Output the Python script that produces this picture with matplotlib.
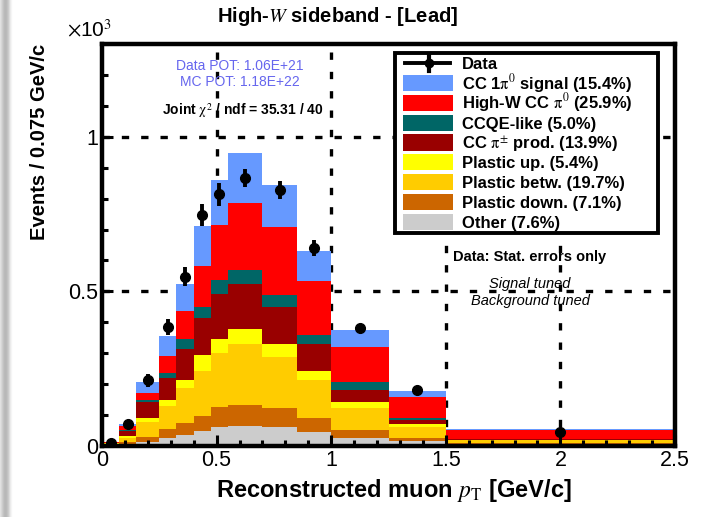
import numpy as np
import matplotlib
matplotlib.use('Agg')
import matplotlib.pyplot as plt
from matplotlib.patches import Rectangle
from matplotlib.ticker import MultipleLocator

plt.rcParams['font.family'] = ['Liberation Sans', 'DejaVu Sans']
plt.rcParams['mathtext.fontset'] = 'stix'

# bins in reconstructed muon pT [GeV/c]
bin_edges = [0, 0.075, 0.15, 0.25, 0.325, 0.4, 0.475, 0.55, 0.7, 0.85, 1.0, 1.25, 1.5, 2.5]

# stacked MC components, events / 0.075 GeV/c (x10^3), bottom to top
other = [0.002, 0.007, 0.014, 0.027, 0.036, 0.049, 0.062, 0.064, 0.060, 0.045, 0.027, 0.016, 0.006]
plastic_down = [0.002, 0.006, 0.015, 0.027, 0.037, 0.049, 0.063, 0.070, 0.063, 0.047, 0.025, 0.011, 0.005]
plastic_betw = [0.004, 0.013, 0.050, 0.076, 0.114, 0.146, 0.177, 0.197, 0.165, 0.120, 0.070, 0.033, 0.008]
plastic_up = [0.001, 0.005, 0.013, 0.020, 0.028, 0.049, 0.043, 0.046, 0.041, 0.032, 0.019, 0.011, 0.002]
cc_pipm = [0.001, 0.019, 0.049, 0.069, 0.098, 0.122, 0.147, 0.147, 0.122, 0.085, 0.041, 0.013, 0.002]
ccqe_like = [0.000, 0.003, 0.009, 0.018, 0.032, 0.034, 0.045, 0.046, 0.038, 0.029, 0.024, 0.008, 0.001]
high_w = [0.003, 0.011, 0.023, 0.055, 0.092, 0.134, 0.179, 0.215, 0.218, 0.177, 0.114, 0.068, 0.027]
signal = [0.001, 0.008, 0.033, 0.064, 0.087, 0.130, 0.143, 0.161, 0.137, 0.094, 0.055, 0.019, 0.003]

data = [0.011, 0.071, 0.212, 0.385, 0.548, 0.746, 0.814, 0.866, 0.828, 0.641, 0.382, 0.181, 0.046]
data_err = [0.004, 0.010, 0.020, 0.027, 0.030, 0.035, 0.037, 0.029, 0.028, 0.026, 0.012, 0.008, 0.003]

labels = ['CC 1$\\mathrm{\\pi}^{0}$ signal (15.4%)', 'High-W CC $\\mathrm{\\pi}^{0}$ (25.9%)',
          'CCQE-like (5.0%)', 'CC $\\mathrm{\\pi}^{\\pm}$ prod. (13.9%)', 'Plastic up. (5.4%)',
          'Plastic betw. (19.7%)', 'Plastic down. (7.1%)', 'Other (7.6%)']
colors = ['#6699ff', '#ff0000', '#006666', '#990000', '#ffff00', '#ffcc00', '#cc6600', '#cccccc']

edges = np.array(bin_edges)
widths = np.diff(edges)
centers = edges[:-1] + widths / 2

fig = plt.figure(figsize=(7.04, 5.17), dpi=100)

# grey shadow down the left edge
sh = fig.add_axes([0, 0, 16 / 704, 1])
grad = np.array([0.88, 0.84, 0.8, 0.76, 0.73, 0.72, 0.73, 0.76, 0.8, 0.86, 0.92, 0.96, 0.99, 1.0, 1.0, 1.0])
sh.imshow(np.tile(grad, (10, 1)), cmap='gray', vmin=0, vmax=1, aspect='auto')
sh.axis('off')

ax = fig.add_axes([102 / 704, 1 - 446 / 517, 573 / 704, 402 / 517])

# dashed grid behind the histograms
for gx in [0.5, 1.0, 1.5, 2.0]:
    ax.axvline(gx, color='k', lw=2.4, linestyle=(0, (2.2, 3.6)), zorder=0.5)
for gy in [0.5, 1.0]:
    ax.axhline(gy, color='k', lw=2.4, linestyle=(0, (2.2, 3.6)), zorder=0.5)

stack = [other, plastic_down, plastic_betw, plastic_up, cc_pipm, ccqe_like, high_w, signal]
stack_cols = colors[::-1]
bottom = np.zeros(len(centers))
for vals, c in zip(stack, stack_cols):
    ax.bar(edges[:-1], vals, width=widths, bottom=bottom, align='edge', color=c, lw=0, zorder=1)
    bottom += np.array(vals)

ax.errorbar(centers, data, yerr=data_err, fmt='o', color='k', ms=7, elinewidth=2.8,
            capsize=0, zorder=5)

ax.set_xlim(0, 2.5)
ax.set_ylim(0, 1.3)
ax.xaxis.set_minor_locator(MultipleLocator(0.1))
ax.yaxis.set_minor_locator(MultipleLocator(0.1))
ax.set_xticks([0, 0.5, 1, 1.5, 2, 2.5])
ax.set_xticklabels(['0', '0.5', '1', '1.5', '2', '2.5'])
ax.set_yticks([0, 0.5, 1])
ax.set_yticklabels(['0', '0.5', '1'])
ax.tick_params(which='both', direction='in', top=False, right=False, labelsize=15.5, width=2.2)
ax.tick_params(which='major', length=8, pad=3)
ax.tick_params(which='minor', length=4)
for s in ax.spines.values():
    s.set_linewidth(3.2)

# labels
fig.text(338 / 704, 1 - 17 / 517, 'High-$W$ sideband - [Lead]', ha='center', va='center',
         fontsize=14.5, fontweight='bold')
fig.text(112 / 704, 1 - 30 / 517, '$\\times$10$^{3}$', ha='right', va='center', fontsize=15)
fig.text(40 / 704, 1 - 44 / 517, 'Events / 0.075 GeV/c', rotation=90, ha='center', va='top',
         fontsize=14.5, fontweight='bold')
fig.text(394 / 704, 1 - 491 / 517, 'Reconstructed muon $p_{\\mathrm{T}}$ [GeV/c]', ha='center',
         va='center', fontsize=17, fontweight='bold')

ax.text(0.24, 0.945, 'Data POT: 1.06E+21', transform=ax.transAxes, ha='center', va='center',
        fontsize=10, color='#6666ee')
ax.text(0.24, 0.905, 'MC POT: 1.18E+22', transform=ax.transAxes, ha='center', va='center',
        fontsize=10, color='#6666ee')
ax.text(0.245, 0.835, 'Joint $\\mathrm{\\chi}^{2}$ / ndf = 35.31 / 40', transform=ax.transAxes,
        ha='center', va='center', fontsize=10, fontweight='bold')
ax.text(0.747, 0.47, 'Data: Stat. errors only', transform=ax.transAxes, ha='center',
        va='center', fontsize=10.5, fontweight='bold')
ax.text(0.747, 0.404, 'Signal tuned', transform=ax.transAxes, ha='center', va='center',
        fontsize=10.5, style='italic')
ax.text(0.747, 0.36, 'Background tuned', transform=ax.transAxes, ha='center', va='center',
        fontsize=10.5, style='italic')


# legend drawn by hand so that the rows are evenly spaced (pixel -> axes coords)
def px(x):
    return (x - 102) / 573


def py(y):
    return (446 - y) / 402


T = ax.transAxes
ax.add_patch(Rectangle((px(395), py(232.7)), px(658) - px(395), py(52.7) - py(232.7),
                       transform=T, facecolor='white', edgecolor='k', lw=2.8, zorder=10,
                       clip_on=False))
row0 = 63.3
step = 19.8
ax.plot([px(405), px(450)], [py(row0), py(row0)], transform=T, color='k', lw=2.8, zorder=11,
        clip_on=False)
ax.plot([px(428.5), px(428.5)], [py(row0 - 7), py(row0 + 8)], transform=T, color='k', lw=3,
        zorder=11, clip_on=False)
ax.plot([px(428.5)], [py(row0)], 'o', transform=T, color='k', ms=6, zorder=11, clip_on=False)
ax.text(px(461.5), py(row0 + 6), 'Data', transform=T, ha='left', va='baseline', fontsize=12,
        fontweight='bold', zorder=12)
for i, (lab, c) in enumerate(zip(labels, colors)):
    yc = row0 + step * (i + 1)
    ax.add_patch(Rectangle((px(402.7), py(yc + 8)), px(452.7) - px(402.7), py(yc - 8) - py(yc + 8),
                           transform=T, facecolor=c, edgecolor='none', zorder=11, clip_on=False))
    ax.text(px(461.5), py(yc + 6), lab, transform=T, ha='left', va='baseline', fontsize=12,
            fontweight='bold', zorder=12)

fig.savefig('out.png', dpi=100)
